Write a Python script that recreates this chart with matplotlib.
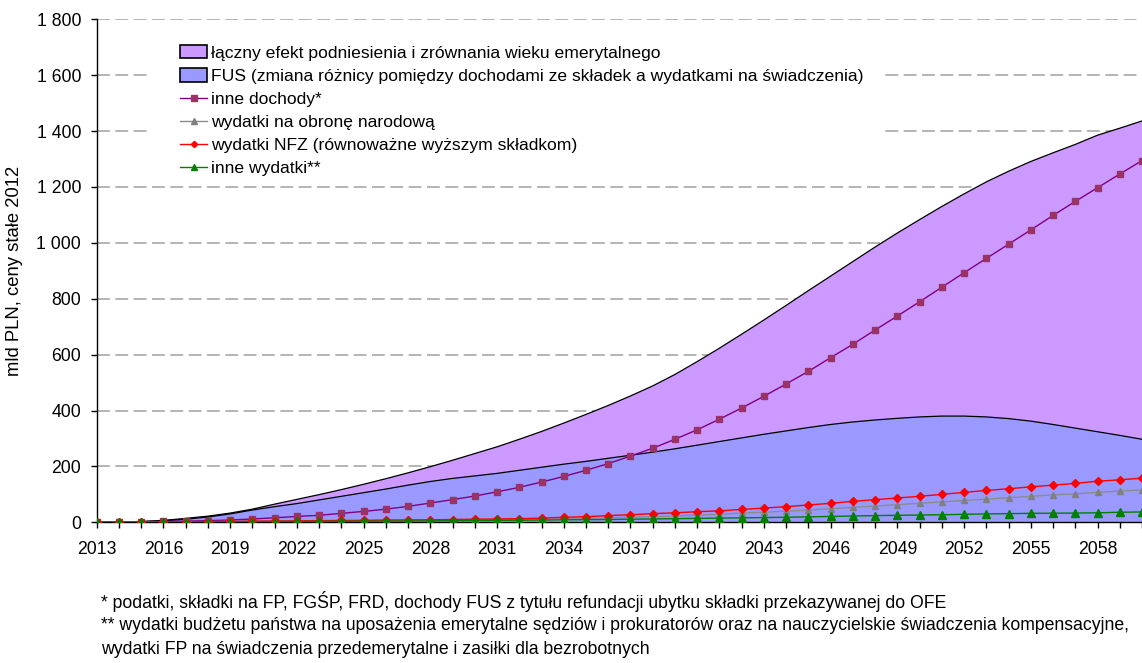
import matplotlib
matplotlib.use("Agg")
import matplotlib.pyplot as plt
from matplotlib import font_manager as fm
from matplotlib.patches import Rectangle, Patch
from matplotlib.lines import Line2D

# ---------------- data ----------------
years = list(range(2013, 2061))
total_effect = [0, 1, 3, 7, 14, 22, 33, 47, 65, 82,
                99, 117, 136, 156, 177, 199, 222, 246, 270, 297,
                325, 355, 386, 418, 452, 488, 529, 575, 623, 673,
                724, 776, 829, 881, 933, 985, 1035, 1083, 1130, 1175,
                1218, 1256, 1291, 1322, 1352, 1385, 1410, 1436]
fus = [0, 1, 2, 5, 11, 19, 30, 44, 56, 67,
       80, 93, 106, 119, 133, 146, 157, 166, 175, 186,
       197, 208, 218, 229, 240, 251, 263, 276, 289, 302,
       315, 327, 339, 350, 359, 366, 372, 377, 380, 380,
       377, 371, 362, 350, 337, 324, 311, 297]
inne_dochody = [0, 1, 2, 3, 4, 6, 8, 12, 16, 21,
                25, 32, 39, 47, 57, 69, 81, 94, 109, 125,
                144, 164, 186, 210, 237, 265, 297, 331, 369, 409,
                451, 495, 540, 589, 637, 688, 738, 789, 841, 893,
                944, 995, 1046, 1098, 1148, 1197, 1246, 1294]
obrona = [0, 0.5, 1, 1.5, 2, 2.5, 3, 3.5, 4, 4.5,
          5, 5.5, 6, 6.5, 7, 7.5, 8, 8.5, 9, 10,
          11, 13, 15, 16, 18, 20, 22.5, 26, 28.6, 33,
          36, 40, 44, 49, 53, 58, 63, 68, 73, 78,
          83, 88, 93, 98, 102, 107, 112, 116]
nfz = [0, 0.5, 1, 1.5, 2, 2.5, 3, 4, 4.5, 5,
       6, 6.5, 7, 8, 8.5, 9, 10, 11, 12, 13,
       15, 18, 20, 24, 27, 31, 34, 38, 41, 46,
       51, 56, 62, 68, 75, 81, 87, 93, 100, 107,
       114, 120, 127, 133, 139, 147, 152, 158]
inne_wydatki = [0, 0.3, 0.6, 1, 1.3, 1.6, 2, 2.3, 2.6, 3,
                3.3, 3.6, 4, 4.3, 4.6, 5, 5.5, 6, 7, 7.5,
                8, 9, 9.5, 10, 11, 12, 13, 14, 15, 16,
                17, 18, 19.5, 21, 22.5, 24, 25, 26, 27, 28.6,
                30, 31, 32, 32.5, 33, 34, 36, 37]

labels = ["łączny efekt podniesienia i zrównania wieku emerytalnego",
          "FUS (zmiana różnicy pomiędzy dochodami ze składek a wydatkami na świadczenia)",
          "inne dochody*",
          "wydatki na obronę narodową",
          "wydatki NFZ (równoważne wyższym składkom)",
          "inne wydatki**"]
y_ticks = [0, 200, 400, 600, 800, 1000, 1200, 1400, 1600, 1800]
y_ticklabels = ["0", "200", "400", "600", "800", "1 000", "1 200", "1 400", "1 600", "1 800"]
x_label_years = list(range(2013, 2059, 3))
ylabel = "mld PLN, ceny stałe 2012"
footnotes = ["* podatki, składki na FP, FGŚP, FRD, dochody FUS z tytułu refundacji ubytku składki przekazywanej do OFE",
             "** wydatki budżetu państwa na uposażenia emerytalne sędziów i prokuratorów oraz na nauczycielskie świadczenia kompensacyjne,",
             "wydatki FP na świadczenia przedemerytalne i zasiłki dla bezrobotnych"]

# ---------------- font ----------------
def has_font(name):
    try:
        fm.findfont(fm.FontProperties(family=name), fallback_to_default=False)
        return True
    except Exception:
        return False

fam = "Liberation Sans Narrow" if has_font("Liberation Sans Narrow") else "Liberation Sans"
plt.rcParams['font.family'] = [fam, 'DejaVu Sans']

W, H = 1142, 663
fig = plt.figure(figsize=(W / 100, H / 100), dpi=100)

x0px, x1px = 96.7, 1142.0
y0px, y1px = 522.3, 19.2
ax = fig.add_axes([x0px / W, 1 - y0px / H, (x1px - x0px) / W, (y0px - y1px) / H])
xmax = 2013 + (x1px - x0px) / 22.36
ax.set_xlim(2013, xmax)
ax.set_ylim(0, 1800)

purple_fill = "#CC99FF"
blue_fill = "#9999FF"

ax.fill_between(years, 0, total_effect, facecolor=purple_fill, edgecolor="none", zorder=1)
ax.plot(years, total_effect, color="black", lw=0.9, zorder=1.1)
ax.fill_between(years, 0, fus, facecolor=blue_fill, edgecolor="none", zorder=1.2)
ax.plot(years, fus, color="black", lw=0.9, zorder=1.3)

ax.plot(years, inne_dochody, color="#800080", lw=1.0, marker="s", ms=4.6,
        mfc="#993366", mec="#993366", zorder=3)
ax.plot(years, obrona, color="#8C8C8C", lw=1.0, marker="^", ms=5,
        mfc="#808080", mec="#808080", zorder=3.1)
ax.plot(years, nfz, color="#FF0000", lw=1.0, marker="D", ms=3.8,
        mfc="#FF0000", mec="#FF0000", zorder=3.2)
ax.plot(years, inne_wydatki, color="#008000", lw=1.0, marker="^", ms=5.5,
        mfc="#008000", mec="#008000", zorder=3.3)

# grid
ax.set_axisbelow(True)
ax.yaxis.grid(True, color="#A0A0A0", lw=1.1, linestyle=(0, (8.4, 3.6)), zorder=0.5)
ax.xaxis.grid(False)

# white box behind the legend (hides gridlines)
def axfrac(px, py):
    return ((px - x0px) / (x1px - x0px), (y0px - py) / (y0px - y1px))
bx0, by1 = axfrac(152, 30)
bx1, by0 = axfrac(880, 182)
ax.add_patch(Rectangle((bx0, by0), bx1 - bx0, by1 - by0, transform=ax.transAxes,
                       facecolor="white", edgecolor="none", zorder=0.9))

# spines / ticks
for s in ["top", "right"]:
    ax.spines[s].set_visible(False)
ax.spines["left"].set_linewidth(1.0)
ax.spines["bottom"].set_linewidth(1.0)

tick_fs = 12.7
ax.set_yticks(y_ticks)
ax.set_yticklabels(y_ticklabels)
ax.set_xticks(years)
ax.set_xticklabels([str(y) if y in x_label_years else "" for y in years])
ax.tick_params(axis="y", direction="out", length=4.3, width=1, labelsize=tick_fs, pad=7)
ax.tick_params(axis="x", direction="out", length=4.3, width=1, labelsize=tick_fs, pad=9.4)

ax.set_ylabel(ylabel, fontsize=13.3)
ax.yaxis.set_label_coords((23 - x0px) / (x1px - x0px), 0.5)

# legend
handles = [Patch(facecolor=purple_fill, edgecolor="black", lw=1.2),
           Patch(facecolor=blue_fill, edgecolor="black", lw=1.2),
           Line2D([], [], color="#800080", lw=1, marker="s", ms=4, mfc="#993366", mec="#993366"),
           Line2D([], [], color="#8C8C8C", lw=1, marker="^", ms=4, mfc="#808080", mec="#808080"),
           Line2D([], [], color="#FF0000", lw=1, marker="D", ms=3.2, mfc="#FF0000", mec="#FF0000"),
           Line2D([], [], color="#008000", lw=1, marker="^", ms=4, mfc="#008000", mec="#008000")]
leg_fs = 12.6
leg = fig.legend(handles, labels, loc="upper left", bbox_to_anchor=(180 / W, 1 - 45 / H),
                 frameon=False, fontsize=leg_fs, handlelength=1.55, handleheight=0.8,
                 handletextpad=0.25, labelspacing=0.42, borderpad=0, borderaxespad=0)

# footnotes
fy = [601, 626, 650]
for t, yy in zip(footnotes, fy):
    fig.text(101 / W, 1 - yy / H, t, fontsize=12.7, va="center", ha="left")

fig.savefig("out.png", dpi=100)
